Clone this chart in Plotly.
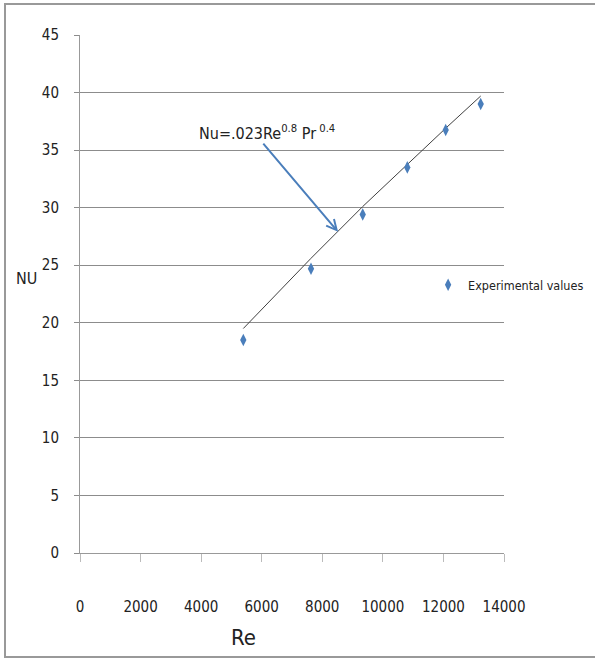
import plotly.graph_objects as go

# Data
re_exp = [5392, 7627, 9335, 10807, 12075, 13231]
nu_exp = [18.5, 24.7, 29.4, 33.5, 36.75, 39.0]
nu_theory = [19.5, 25.6, 30.1, 33.8, 36.9, 39.7]

x_ticks = [0, 2000, 4000, 6000, 8000, 10000, 12000, 14000]
x_tick_labels = ["0", "2000", "4000", "6000", "8000", "10000", "12000", "14000"]
y_ticks = [0, 5, 10, 15, 20, 25, 30, 35, 40, 45]

FONT = "Liberation Sans Narrow, DejaVu Sans Condensed, Arial Narrow, sans-serif"
BLUE = "#4A7EBB"

fig = go.Figure()

fig.add_trace(go.Scatter(
    x=re_exp, y=nu_theory, mode="lines",
    line=dict(color="#404040", width=1),
    showlegend=False, hoverinfo="skip"))

fig.add_trace(go.Scatter(
    x=re_exp, y=nu_exp, mode="markers", name="Experimental values",
    marker=dict(symbol="diamond-tall", size=9, color=BLUE)))

fig.update_layout(
    width=595, height=659,
    margin=dict(l=80, r=91, t=35, b=106, autoexpand=False),
    paper_bgcolor="white", plot_bgcolor="white",
    font=dict(family=FONT, size=15, color="#222"),
    legend=dict(x=0.821, y=0.517, xanchor="left", yanchor="middle",
                bgcolor="rgba(0,0,0,0)", font=dict(size=12.5, color="#222"),
                itemwidth=30),
    xaxis=dict(range=[0, 14000], tickvals=x_ticks, ticktext=x_tick_labels,
               showgrid=False, automargin=False,
               zeroline=False, showline=True, linecolor="#999", linewidth=1,
               ticks="outside", ticklen=8, tickcolor="#bbb",
               ticklabelstandoff=32, tickfont=dict(size=15)),
    yaxis=dict(range=[0, 45], tickvals=y_ticks, showgrid=True,
               gridcolor="#8c8c8c", gridwidth=1, zeroline=False,
               automargin=False,
               showline=True, linecolor="#999", linewidth=1,
               ticks="outside", ticklen=5, tickcolor="#8c8c8c",
               ticklabelstandoff=12, tickfont=dict(size=15)),
)

# Arrow pointing at the theoretical line
fig.add_annotation(x=8522, y=27.9, ax=6010, ay=35.7,
                   xref="x", yref="y", axref="x", ayref="y",
                   text="", showarrow=True, arrowhead=5, arrowsize=1,
                   arrowwidth=2, arrowcolor=BLUE)

# Formula label
fig.add_annotation(x=3863, y=36.5, xref="x", yref="y", xanchor="left",
                   yanchor="middle", showarrow=False,
                   text="Nu=.023Re<sup>0.8</sup> Pr<sup> 0.4</sup>",
                   font=dict(size=16, color="#222"))

# Axis titles
fig.add_annotation(x=(243 - 80) / 424, y=(553 - 637) / 518, xref="paper",
                   yref="paper", xanchor="center", yanchor="middle",
                   showarrow=False, text="Re",
                   font=dict(size=22, color="#222"))
fig.add_annotation(x=(26 - 80) / 424, y=(553 - 278) / 518, xref="paper",
                   yref="paper", xanchor="center", yanchor="middle",
                   showarrow=False, text="NU",
                   font=dict(size=16, color="#222"))

# Outer frame
fig.add_shape(type="rect", xref="paper", yref="paper",
              x0=(5 - 80) / 424, x1=(598 - 80) / 424,
              y0=(553 - 657) / 518, y1=(553 - 4) / 518,
              line=dict(color="#999", width=2), layer="below")

fig.write_html("out.html", config={"displayModeBar": False},
               post_script="document.body.style.margin='0';")
